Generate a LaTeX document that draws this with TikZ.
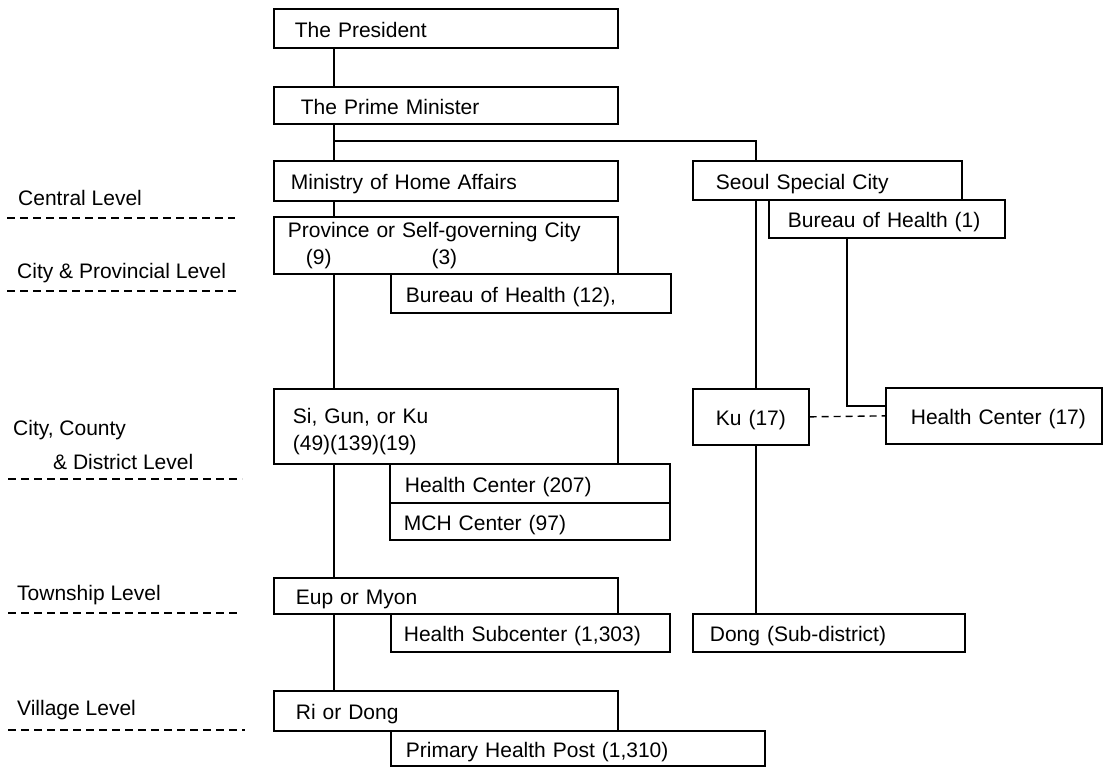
\documentclass[tikz,border=0pt]{standalone}
\usepackage{fontspec}
\setmainfont{Liberation Sans}
\begin{document}
\begin{tikzpicture}[x=1pt,y=-1pt,
  every node/.style={font=\fontsize{21}{27}\selectfont},
  box/.style={draw, line width=1.7pt, rectangle, anchor=north west,
              inner ysep=0pt, align=left},
  one/.style={box, text height=19pt, text depth=1pt},
  link/.style={line width=1.6pt},
  tie/.style={line width=1.4pt, dash pattern=on 7pt off 5pt},
  levelsep/.style={line width=1.3pt, dash pattern=on 8pt off 5pt},
  lvl/.style={anchor=west, inner sep=0pt}]
\useasboundingbox (0,0) rectangle (1106,766);

% vertical spines of the two columns
\coordinate (spineL) at (334,0);
\coordinate (spineR) at (756,0);
\coordinate (spineB) at (847,0);
\coordinate (fork)   at (334,141);

% ---- left column ----
\node[one, minimum height=39, inner xsep=21, text width=302] (pres) at (273,8) {\mbox{The President}};
\node[one, minimum height=37, inner xsep=27, text width=290] (pm)   at (273,86) {\mbox{The Prime Minister}};
\node[one, minimum height=40, inner xsep=17, text width=310] (min)  at (273,160) {\mbox{Ministry of Home Affairs}};
\node[box, minimum height=57, inner xsep=14, text width=316] (prov) at (273,216)
  {\mbox{Province or Self-governing City}\\\hspace*{18pt}(9)\hspace{100pt}(3)};
\node[one, minimum height=39, inner xsep=15, text width=250] (bur12) at (390,273) {\mbox{Bureau of Health (12),}};
\node[box, minimum height=75, inner xsep=19, text width=306, text height=30pt, text depth=36pt] (si) at (273,388)
  {Si, Gun, or Ku\\(49)(139)(19)};
\node[one, minimum height=39, inner xsep=15, text width=250] (hc207) at (389,463) {\mbox{Health Center (207)}};
\node[one, minimum height=37, inner xsep=14, text width=252] (mch)  at (389,502) {\mbox{MCH Center (97)}};
\node[one, minimum height=36, inner xsep=22, text width=300] (eup)  at (273,577) {\mbox{Eup or Myon}};
\node[one, minimum height=38, inner xsep=13, text width=253] (hsub) at (390,613) {\mbox{Health Subcenter (1,303)}};
\node[one, minimum height=40, inner xsep=22, text width=300] (ri)   at (273,690) {\mbox{Ri or Dong}};
\node[one, minimum height=35, inner xsep=15, text width=344] (php)  at (390,730) {\mbox{Primary Health Post (1,310)}};

% ---- right column ----
\node[one, minimum height=39, inner xsep=23, text width=223] (seoul) at (692,160) {\mbox{Seoul Special City}};
\node[one, minimum height=38, inner xsep=19, text width=198] (bur1)  at (768,199) {\mbox{Bureau of Health (1)}};
\node[one, minimum height=56, inner xsep=23, text width=70]  (ku)    at (692,388) {\mbox{Ku (17)}};
\node[one, minimum height=56, inner xsep=25, text width=166] (hc17)  at (885,387) {\mbox{Health Center (17)}};
\node[one, minimum height=38, inner xsep=17, text width=238] (dong)  at (692,613) {\mbox{Dong (Sub-district)}};

% ---- connectors ----
\draw[link] (pres.south west -| spineL) -- (pm.north west -| spineL);
\draw[link] (pm.south west -| spineL) -- (min.north west -| spineL);
\draw[link] (fork) -| (seoul.north west -| spineR);
\draw[link] (min.south west -| spineL) -- (prov.north west -| spineL);
\draw[link] (prov.south west -| spineL) -- (si.north west -| spineL);
\draw[link] (si.south west -| spineL) -- (eup.north west -| spineL);
\draw[link] (eup.south west -| spineL) -- (ri.north west -| spineL);
\draw[link] (seoul.south west -| spineR) -- (ku.north west -| spineR);
\draw[link] (ku.south west -| spineR) -- (dong.north west -| spineR);
\draw[link] (bur1.south west -| spineB) |- ([yshift=-19pt]hc17.north west);
\draw[tie] (ku.east) -- (hc17.west);

% ---- administrative levels ----
\node[lvl] (lcentral) at (18,198) {Central Level};
\node[lvl] (lcity)    at (17,273) {City \& Provincial Level};
\node[lvl] (lcounty)  at (13,430) {City, County};
\node[lvl] (ldist)    at (53,462) {\& District Level};
\node[lvl] (ltown)    at (17,595) {Township Level};
\node[lvl] (lvill)    at (17,710) {Village Level};

\draw[levelsep] (7,218) -- (235,218);
\draw[levelsep] (7,291) -- (237,291);
\draw[levelsep] (8,479) -- (242,479);
\draw[levelsep] (8,613) -- (240,613);
\draw[levelsep] (8,730) -- (245,730);
\end{tikzpicture}
\end{document}
